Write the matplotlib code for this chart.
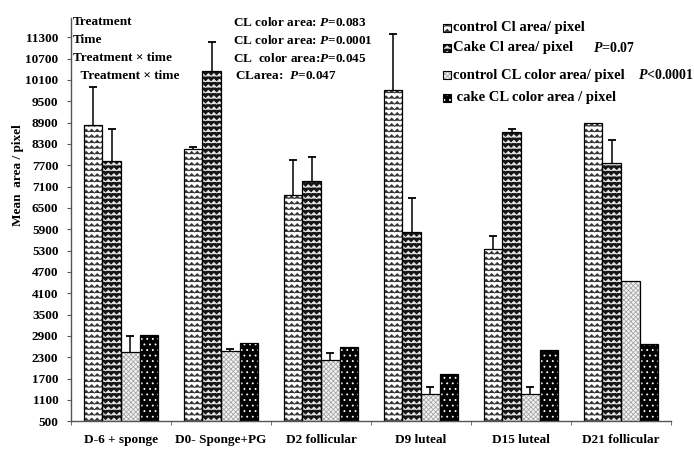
import warnings
import numpy as np
import matplotlib
matplotlib.use('Agg')
import matplotlib.pyplot as plt
from matplotlib import hatch as mhatch
from matplotlib.path import Path
from matplotlib.patches import Rectangle

warnings.filterwarnings('ignore')

# %% data
groups = ['D-6 + sponge', 'D0- Sponge+PG', 'D2 follicular', 'D9 luteal', 'D15 luteal', 'D21 follicular']
series = ['control Cl area/ pixel', 'Cake Cl area/ pixel', 'control CL color area/ pixel', ' cake CL color area / pixel']
legend_p = ['', '$P$=0.07', '$P$<0.0001', '']

control_cl = [8830, 8150, 6860, 9820, 5340, 8880]
cake_cl = [7820, 10350, 7260, 5830, 8630, 7760]
control_color = [2460, 2480, 2210, 1260, 1260, 4450]
cake_color = [2940, 2710, 2600, 1840, 2500, 2680]

control_cl_err = [1080, 65, 980, 1580, 375, 0]
cake_cl_err = [890, 810, 685, 940, 85, 655]
control_color_err = [440, 60, 200, 210, 210, 0]
cake_color_err = [0, 0, 0, 0, 0, 0]

yticks = list(range(500, 11301, 600))

left_notes = ['Treatment', 'Time', 'Treatment \u00d7 time', '  Treatment \u00d7 time']
right_notes = ['CL color area: $P$=0.083', 'CL color area: $P$=0.0001',
               'CL  color area:$P$=0.045', 'CLarea:  $P$=0.047']


# %% zigzag hatch
class ZigZagHatch(mhatch.HatchPatternBase):
    def __init__(self, hatch, density):
        self.num_lines = int(hatch.count('z') * density)
        self.teeth = max(1, int(round(self.num_lines * 1.0)))
        self.num_vertices = self.num_lines * (2 * self.teeth + 1)

    def set_vertices_and_codes(self, vertices, codes):
        n = self.num_lines
        m = 2 * self.teeth + 1
        xs = np.linspace(0, 1, m)
        amp = 0.25 / n
        off = np.where(np.arange(m) % 2 == 0, -amp, amp)
        for i in range(n):
            y0 = (i + 0.5) / n
            vertices[i*m:(i+1)*m, 0] = xs
            vertices[i*m:(i+1)*m, 1] = y0 + off
            codes[i*m] = Path.MOVETO
            codes[i*m+1:(i+1)*m] = Path.LINETO


mhatch._hatch_types.append(ZigZagHatch)

plt.rcParams['font.family'] = 'Liberation Serif'
plt.rcParams['font.weight'] = 'bold'
plt.rcParams['mathtext.fontset'] = 'custom'
plt.rcParams['mathtext.it'] = 'Liberation Serif:italic:bold'
plt.rcParams['mathtext.rm'] = 'Liberation Serif:bold'
plt.rcParams['hatch.linewidth'] = 0.6

# face, hatch, hatch colour
styles = [('white', 'zzz', '#333333'),
          ('#151515', 'zzz', '#e8e8e8'),
          ('#f4f4f4', 'xxxxxxx', '#a8a8a8'),
          ('black', '...', 'white')]

fig = plt.figure(figsize=(6.94, 4.51), dpi=100)
ax = fig.add_axes([71/694, 1 - 421.3/451, 600/694, (421.3 - 18)/451])

vals = [control_cl, cake_cl, control_color, cake_color]
errs = [control_cl_err, cake_cl_err, control_color_err, cake_color_err]
x = np.arange(len(groups))
w = 0.186
for i in range(4):
    xi = x + (i - 1.5) * w
    face, hp, hc = styles[i]
    ax.bar(xi, vals[i], w, color=face, edgecolor=hc, hatch=hp, linewidth=0, zorder=2)
    ax.bar(xi, vals[i], w, fill=False, edgecolor='black', linewidth=0.9, zorder=3)
    e = np.array(errs[i])
    v = np.array(vals[i])
    m = e > 0
    ax.vlines(xi[m], v[m], v[m] + e[m], color='black', linewidth=1.1, zorder=4)
    ax.plot(xi[m], v[m] + e[m], linestyle='none', marker='_', markersize=6,
            markeredgewidth=1.3, color='black', zorder=4)

ax.set_xlim(-0.5, 5.5)
ax.set_ylim(500, 11840)
ax.set_yticks(yticks)
ax.set_yticklabels([str(t) for t in yticks], fontsize=9.5, fontweight='bold')
ax.set_xticks(x)
ax.set_xticklabels(groups, fontsize=9.5, fontweight='bold')
ax.set_xticks(np.arange(-0.5, 5.6, 1), minor=True)
ax.tick_params(axis='x', which='major', length=0, pad=9)
ax.tick_params(axis='x', which='minor', length=3, direction='out', color='#555555')
ax.tick_params(axis='y', length=3, direction='out', color='#555555', pad=6)
for s in ['top', 'right']:
    ax.spines[s].set_visible(False)
for s in ['left', 'bottom']:
    ax.spines[s].set_color('#555555')
    ax.spines[s].set_linewidth(1.0)

ax.set_ylabel('Mean  area / pixel', fontsize=9.5, fontweight='bold')
ax.yaxis.set_label_coords(-0.078, 0.61)

# notes in top-left
rows_y = [22, 40, 58, 76]
for k in range(4):
    fig.text((73 if k < 3 else 74)/694, 1 - rows_y[k]/451, left_notes[k], fontsize=9.5,
             fontweight='bold', va='center', ha='left')
    fig.text((233 if k < 3 else 235)/694, 1 - rows_y[k]/451, right_notes[k], fontsize=9.5,
             fontweight='bold', va='center', ha='left')

# legend
leg_y = [28, 48, 75, 98]
p_x = [0, 593, 638, 0]
for i in range(4):
    face, hp, hc = styles[i]
    yy = 1 - (leg_y[i] + 4)/451
    fig.add_artist(Rectangle((443/694, yy), 8/694, 8/451, transform=fig.transFigure,
                             facecolor=face, edgecolor=hc, hatch=hp, linewidth=0))
    fig.add_artist(Rectangle((443/694, yy), 8/694, 8/451, transform=fig.transFigure,
                             fill=False, edgecolor='black', linewidth=0.8))
    fig.text(453/694, 1 - leg_y[i]/451, series[i], fontsize=10.5, fontweight='bold',
             va='center', ha='left')
    if legend_p[i]:
        fig.text(p_x[i]/694, 1 - leg_y[i]/451, legend_p[i], fontsize=10, fontweight='bold',
                 va='center', ha='left')

fig.savefig('out.png', dpi=100)
